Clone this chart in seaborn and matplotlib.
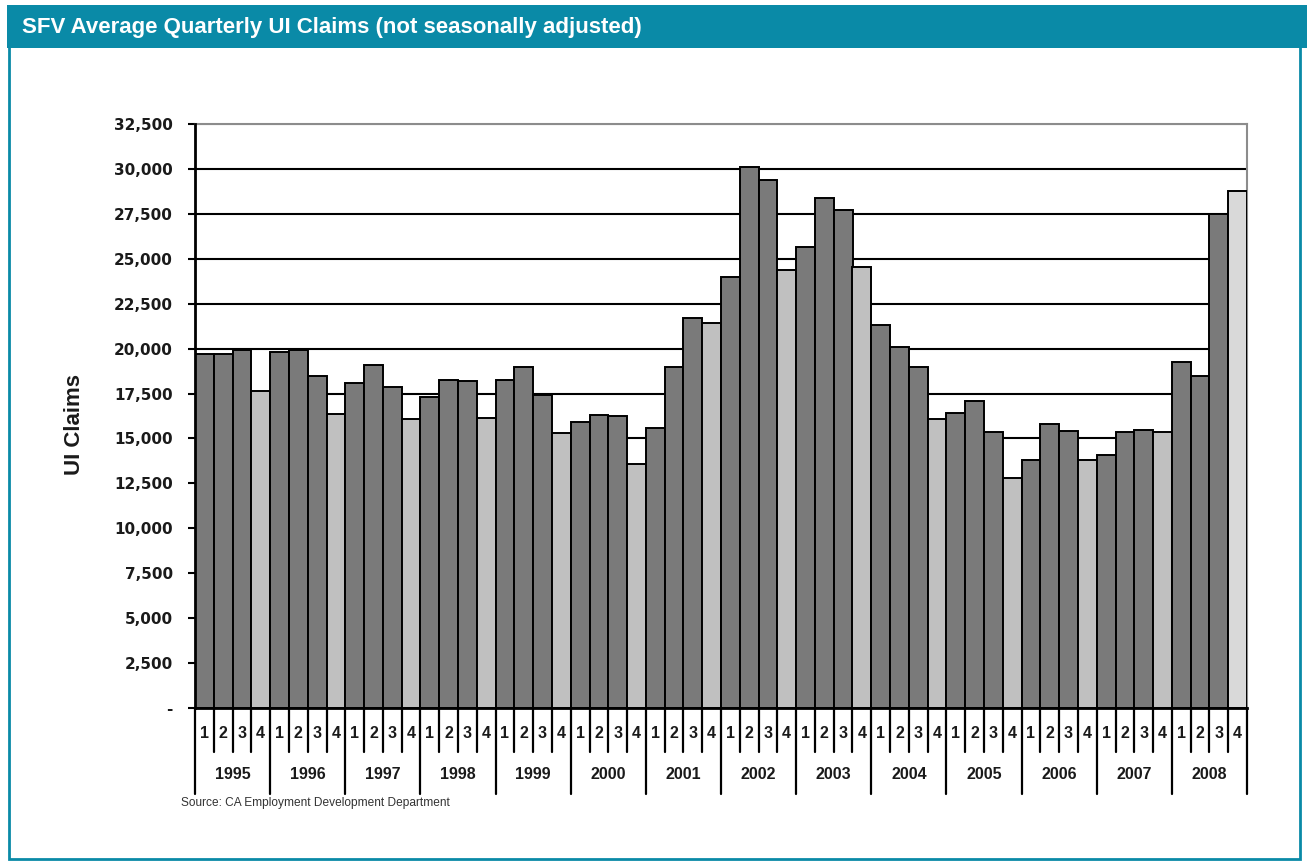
import matplotlib
matplotlib.use("Agg")
import matplotlib.pyplot as plt
import matplotlib.patches as mpatches
import matplotlib.transforms as mtransforms
import seaborn as sns
import pandas as pd

# Average quarterly unemployment-insurance claims, San Fernando Valley
years = list(range(1995, 2009))
quarter_labels = ["1", "2", "3", "4"]
claims = [
    19700, 19700, 19900, 17650,   # 1995
    19800, 19900, 18450, 16350,   # 1996
    18100, 19100, 17880, 16070,   # 1997
    17300, 18250, 18170, 16120,   # 1998
    18280, 18970, 17430, 15280,   # 1999
    15940, 16300, 16250, 13600,   # 2000
    15570, 18970, 21700, 21420,   # 2001
    24000, 30100, 29400, 24380,   # 2002
    25680, 28380, 27730, 24560,   # 2003
    21320, 20100, 18970, 16070,   # 2004
    16430, 17080, 15340, 12800,   # 2005
    13800, 15790, 15430, 13800,   # 2006
    14080, 15350, 15480, 15350,   # 2007
    19230, 18450, 27500, 28750,   # 2008
]
y_ticks = list(range(0, 32501, 2500))

TEAL = "#0a8aa7"
DARK = "#7a7a7a"
LIGHT = "#c0c0c0"
LATEST = "#d9d9d9"
NARROW = ["Liberation Sans Narrow", "Liberation Sans", "DejaVu Sans"]

slots = [f"{y} Q{q}" for y in years for q in quarter_labels]
df = pd.DataFrame({"slot": slots, "claims": claims})
colors = []
for i in range(len(slots)):
    if i == len(slots) - 1:
        colors.append(LATEST)
    elif i % 4 == 3:
        colors.append(LIGHT)
    else:
        colors.append(DARK)

sns.set_style("white")
fig = plt.figure(figsize=(13.07, 8.61), dpi=100)
ax = fig.add_axes([195 / 1307, 1 - 708 / 861, 1052 / 1307, 584 / 861])

sns.barplot(data=df, x="slot", y="claims", hue="slot", order=slots,
            hue_order=slots, palette=colors, dodge=False, legend=False,
            width=1.0, edgecolor="black", linewidth=1.4, saturation=1,
            ax=ax, zorder=3)

ax.set_xlim(-0.5, len(slots) - 0.5)
ax.set_ylim(0, 32500)
ax.set_yticks(y_ticks)
ax.set_yticklabels(["-" if v == 0 else f"{v:,}" for v in y_ticks],
                   fontsize=11, fontweight="bold", color="#1a1a1a",
                   family="DejaVu Sans")
ax.tick_params(axis="y", direction="out", length=5, width=1.5,
               pad=11, color="black", left=True)
ax.set_xticks([])
ax.set_xlabel("")

ax.yaxis.grid(True, color="black", linewidth=1.5)
ax.set_axisbelow(True)
ax.yaxis.get_gridlines()[-1].set_color("#8c8c8c")
for b in ax.patches:
    b.set_zorder(3)

for side in ("left", "bottom"):
    ax.spines[side].set_color("black")
    ax.spines[side].set_linewidth(2)
    ax.spines[side].set_zorder(4)
for side in ("top", "right"):
    ax.spines[side].set_color("#8c8c8c")
    ax.spines[side].set_linewidth(1.5)

ax.set_ylabel("UI Claims", fontsize=16, fontweight="bold",
              family="Liberation Sans", color="#1a1a1a")
ax.yaxis.set_label_coords(-0.1046, 0.4846)

# Two-level category axis: quarters under each bar, years underneath
trans = mtransforms.blended_transform_factory(ax.transData, ax.transAxes)
n = len(slots)
for k in range(n + 1):
    x = k - 0.5
    bottom = -0.147 if k % 4 == 0 else -0.0753
    ax.plot([x, x], [0, bottom], color="black", lw=1.6,
            transform=trans, clip_on=False, zorder=5)
for i in range(n):
    ax.text(i, -0.0445, quarter_labels[i % 4], transform=trans,
            ha="center", va="center", fontsize=11.5, fontweight="bold",
            family=NARROW, color="#1a1a1a")
for j, yr in enumerate(years):
    ax.text(j * 4 + 1.5, -0.1147, str(yr), transform=trans,
            ha="center", va="center", fontsize=11.5, fontweight="bold",
            family=NARROW, color="#1a1a1a")

fig.text(181 / 1307, 1 - 803 / 861,
         "Source: CA Employment Development Department",
         fontsize=8.6, color="#333333", family="Liberation Sans",
         ha="left", va="center")

# Teal frame and title banner
fig.patches.append(mpatches.Rectangle(
    (9 / 1307, 1 - 859 / 861), (1300 - 9) / 1307, (859 - 6) / 861,
    transform=fig.transFigure, fill=False, edgecolor=TEAL, lw=2, zorder=0))
fig.patches.append(mpatches.Rectangle(
    (7 / 1307, 1 - 48 / 861), 1 - 7 / 1307, 43 / 861,
    transform=fig.transFigure, facecolor=TEAL, edgecolor="none", zorder=1))
fig.text(22 / 1307, 1 - 28 / 861,
         "SFV Average Quarterly UI Claims (not seasonally adjusted)",
         color="white", fontsize=16, fontweight="bold", family=NARROW,
         ha="left", va="center", zorder=2)

fig.savefig("out.png", dpi=100)
